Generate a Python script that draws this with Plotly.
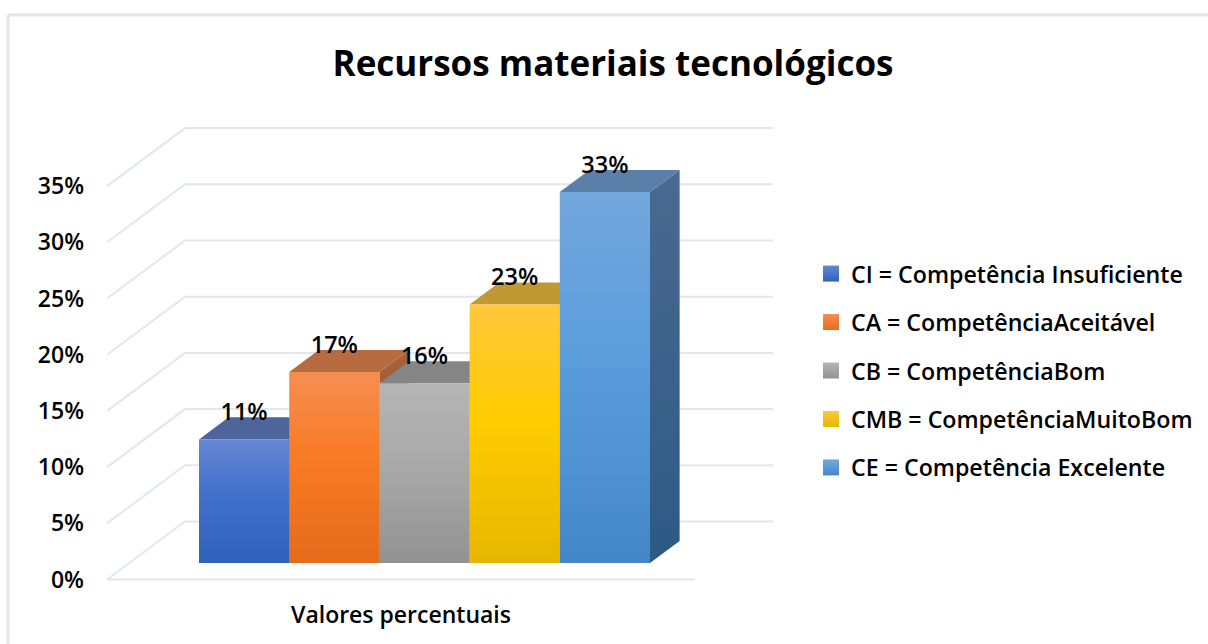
import plotly.graph_objects as go

# ---- data ----
series_names = ["CI = Competência Insuficiente", "CA = CompetênciaAceitável", "CB = CompetênciaBom",
                "CMB = CompetênciaMuitoBom", "CE = Competência Excelente"]
values = [11, 17, 16, 23, 33]
y_ticks = [0, 5, 10, 15, 20, 25, 30, 35]
y_tick_text = ["0%", "5%", "10%", "15%", "20%", "25%", "30%", "35%"]
category = "Valores percentuais"
title = "Recursos materiais tecnológicos"

# ---- style ----
front_colors = [["#6686D2", "#4270CB", "#2F62BA"], ["#F58E52", "#F97A24", "#E56C1B"],
                ["#B5B5B5", "#A9A9A9", "#929292"], ["#FFC83D", "#FFCC00", "#E6B700"],
                ["#73A7DE", "#5B9DDB", "#4487C9"]]
top_colors = ["#4E659B", "#B86B3F", "#858585", "#BF9A33", "#5A7FA8"]
side_colors = [["#3D5A9A", "#24488C"], ["#A5623B", "#A05016"], ["#7A7A7A", "#666666"],
               ["#B08A20", "#A08000"], ["#4A6A90", "#2C5A85"]]
grid_color = "#E2E6EE"
FONT = "Open Sans"

# ---- oblique projection of the 3D box onto the 2D axes ----
PX_PER_CAT = 90.2
PX_PER_PCT = 11.24
DX = 78 / PX_PER_CAT     # full floor depth, in x axis units
DY = 58 / PX_PER_PCT     # full floor depth, in y axis units
BAR_FRONT = 0.284
BAR_BACK = 0.664
FLOOR_L = -0.774
FLOOR_R = 5.744

# plot area in pixels
L, R, T, B = 100, 1200, 100, 590


def proj(c, v, d):
    return c + d * DX, v + d * DY


def poly(points):
    xs, ys = zip(*[proj(*p) for p in points])
    return list(xs) + [xs[0]], list(ys) + [ys[0]]


fig = go.Figure()

# gridlines: front edge -> back wall -> along the wall
for t in y_ticks:
    pts = [proj(FLOOR_L, t, 0), proj(FLOOR_L, t, 1), proj(FLOOR_R, t, 1)]
    fig.add_trace(go.Scatter(x=[p[0] for p in pts], y=[p[1] for p in pts], mode="lines",
                             line=dict(color=grid_color, width=2), showlegend=False, hoverinfo="skip"))
a, b = proj(FLOOR_L, 0, 0), proj(FLOOR_R, 0, 0)
fig.add_trace(go.Scatter(x=[a[0], b[0]], y=[a[1], b[1]], mode="lines",
                         line=dict(color=grid_color, width=2), showlegend=False, hoverinfo="skip"))

# bars
for i, v in enumerate(values):
    fx, fy = poly([(i, 0, BAR_FRONT), (i + 1, 0, BAR_FRONT), (i + 1, v, BAR_FRONT), (i, v, BAR_FRONT)])
    tx, ty = poly([(i, v, BAR_FRONT), (i + 1, v, BAR_FRONT), (i + 1, v, BAR_BACK), (i, v, BAR_BACK)])
    sx, sy = poly([(i + 1, 0, BAR_FRONT), (i + 1, 0, BAR_BACK), (i + 1, v, BAR_BACK), (i + 1, v, BAR_FRONT)])
    fig.add_trace(go.Scatter(x=sx, y=sy, mode="lines", fill="toself", line=dict(width=0),
                             fillgradient=dict(type="vertical",
                                               colorscale=[[0, side_colors[i][1]], [1, side_colors[i][0]]]),
                             showlegend=False, hoverinfo="skip"))
    fig.add_trace(go.Scatter(x=tx, y=ty, mode="lines", fill="toself", line=dict(width=0),
                             fillcolor=top_colors[i], showlegend=False, hoverinfo="skip"))
    c = front_colors[i]
    fig.add_trace(go.Scatter(x=fx, y=fy, mode="lines", fill="toself", line=dict(width=0),
                             fillgradient=dict(type="vertical",
                                               colorscale=[[0, c[2]], [0.55, c[1]], [1, c[0]]]),
                             showlegend=False, hoverinfo="skip"))

# value labels
LABEL_LIFT = 25 / PX_PER_PCT
for i, v in enumerate(values):
    x, y = proj(i + 0.5, v + LABEL_LIFT, BAR_FRONT)
    fig.add_trace(go.Scatter(x=[x], y=[y], mode="text", text=[f"{v}%"], textposition="middle center",
                             textfont=dict(family=FONT, size=23.5, weight=600, color="#000000"),
                             showlegend=False, hoverinfo="skip"))

# legend entries
for i, name in enumerate(series_names):
    c = front_colors[i]
    fig.add_trace(go.Scatter(x=[None], y=[None], mode="markers", name=name, legendgroup=name,
                             marker=dict(symbol="square", size=16, color=c[0],
                                         gradient=dict(type="vertical", color=c[2]))))

W_P, H_P = R - L, B - T
fig.update_layout(
    width=1208, height=644,
    margin=dict(l=L, r=1208 - R, t=T, b=644 - B),
    paper_bgcolor="#FFFFFF", plot_bgcolor="rgba(0,0,0,0)",
    title=dict(text=f"<b>{title}</b>", x=613 / 1208, xanchor="center", y=1 - 64 / 644, yanchor="middle",
               font=dict(family=FONT, size=35, color="#000000")),
    font=dict(family=FONT, color="#000000"),
    legend=dict(x=(811 - L) / W_P, y=1 - (252 - T) / H_P, yanchor="top", xanchor="left",
                tracegroupgap=15.3, itemclick=False, itemdoubleclick=False,
                font=dict(family=FONT, size=23.2, weight=600, color="#000000"),
                bgcolor="rgba(0,0,0,0)"),
    xaxis=dict(range=[(L - 176.85) / PX_PER_CAT, (R - 176.85) / PX_PER_CAT], showgrid=False, zeroline=False,
               showline=False, tickmode="array", tickvals=[(401 - 176.85) / PX_PER_CAT], ticktext=[category],
               ticks="", ticklabelstandoff=9,
               tickfont=dict(family=FONT, size=23, weight=600, color="#000000")),
    yaxis=dict(range=[(579.5 - B) / PX_PER_PCT, (579.5 - T) / PX_PER_PCT], showgrid=False, zeroline=False,
               showline=False, tickmode="array", tickvals=y_ticks, ticktext=y_tick_text,
               ticks="", ticklabelstandoff=15,
               tickfont=dict(family=FONT, size=23, weight=600, color="#000000")),
    shapes=[
        dict(type="line", xref="paper", yref="paper", x0=(8 - L) / W_P, x1=(1208 - L) / W_P,
             y0=1 + (T - 15) / H_P, y1=1 + (T - 15) / H_P, line=dict(color=grid_color, width=3)),
        dict(type="line", xref="paper", yref="paper", x0=(8 - L) / W_P, x1=(8 - L) / W_P,
             y0=-(644 - B) / H_P, y1=1 + (T - 15) / H_P, line=dict(color=grid_color, width=3)),
    ],
)
fig.write_html("out.html", post_script="document.body.style.margin='0';",
               config=dict(displayModeBar=False))
